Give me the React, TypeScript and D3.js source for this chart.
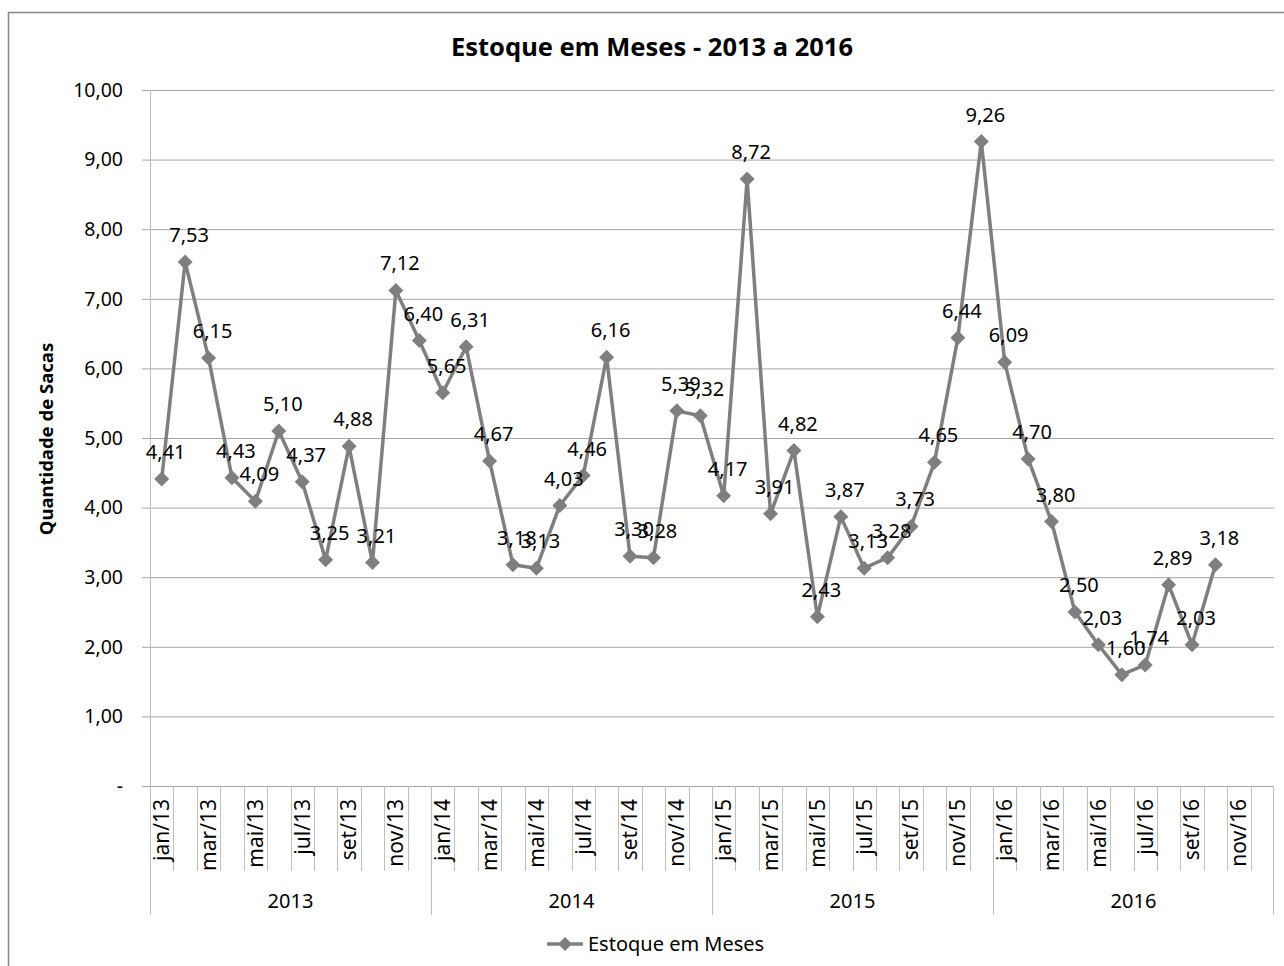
import React from "react";
import * as d3 from "d3";

const years = ["2013", "2014", "2015", "2016"];
const monthNames = ["jan", "fev", "mar", "abr", "mai", "jun", "jul", "ago", "set", "out", "nov", "dez"];
const values2013 = [4.41, 7.53, 6.15, 4.43, 4.09, 5.1, 4.37, 3.25, 4.88, 3.21, 7.12, 6.4];
const values2014 = [5.65, 6.31, 4.67, 3.18, 3.13, 4.03, 4.46, 6.16, 3.3, 3.28, 5.39, 5.32];
const values2015 = [4.17, 8.72, 3.91, 4.82, 2.43, 3.87, 3.13, 3.28, 3.73, 4.65, 6.44, 9.26];
const values2016 = [6.09, 4.7, 3.8, 2.5, 2.03, 1.6, 1.74, 2.89, 2.03, 3.18, null, null];
const yTicks = [0, 1, 2, 3, 4, 5, 6, 7, 8, 9, 10];
const title = "Estoque em Meses - 2013 a 2016";
const yTitle = "Quantidade de Sacas";
const seriesName = "Estoque em Meses";

const FONT = "'Noto Sans', 'Open Sans', sans-serif";

type Pt = { key: string; month: number; year: string; value: number | null };

export default function App() {
  const allValues = [values2013, values2014, values2015, values2016];
  const points: Pt[] = [];
  years.forEach((yr, yi) => {
    monthNames.forEach((m, mi) => {
      points.push({ key: `${m}/${yr.slice(2)}`, month: mi, year: yr, value: allValues[yi][mi] });
    });
  });

  const left = 150, right = 1274, top = 90, bottom = 786;
  const x = d3.scaleBand<string>().domain(points.map((p) => p.key)).range([left, right]).paddingInner(0).paddingOuter(0);
  const y = d3.scaleLinear().domain([0, 10]).range([bottom, top]);
  const bw = x.bandwidth();
  const cx = (k: string) => (x(k) as number) + bw / 2;

  const fmt = d3.format(".2f");
  const fmtNum = (v: number) => (v === 0 ? "-" : fmt(v).replace(".", ","));

  const valid = points.filter((p) => p.value !== null) as (Pt & { value: number })[];
  const line = d3
    .line<Pt & { value: number }>()
    .x((p) => cx(p.key))
    .y((p) => y(p.value));

  const diamond = (s: number) => `M0,${-s}L${s},0L0,${s}L${-s},0Z`;

  const lineColor = "#7f7f7f";
  const gridColor = "#a6a6a6";
  const axisColor = "#bfbfbf";

  const monthTickBottom = 871;
  const yearTickBottom = 915;

  return (
    <svg
      width={1284}
      height={966}
      style={{ position: "absolute", left: 0, top: 0, background: "#fff" }}
      fontFamily={FONT}
    >
      <rect x={8.5} y={12.5} width={1290} height={970} fill="#fff" stroke="#888" strokeWidth={1.5} />
      <text x={652} y={56} textAnchor="middle" fontSize={25.5} fontWeight="bold" fill="#000">
        {title}
      </text>

      {/* gridlines */}
      {yTicks.map((t) =>
        t === 0 ? null : (
          <line key={"g" + t} x1={left} x2={right} y1={y(t) + 0.5} y2={y(t) + 0.5} stroke={gridColor} strokeWidth={1} />
        )
      )}
      {/* y tick marks and labels */}
      {yTicks.map((t) => (
        <g key={"t" + t}>
          <line x1={142} x2={left} y1={y(t) + 0.5} y2={y(t) + 0.5} stroke={gridColor} strokeWidth={1} />
          <text x={123} y={y(t)} dy="0.35em" textAnchor="end" fontSize={19.5} fill="#000">
            {fmtNum(t)}
          </text>
        </g>
      ))}
      {/* y axis line */}
      <line x1={left + 0.5} x2={left + 0.5} y1={top} y2={bottom} stroke={axisColor} strokeWidth={1} />
      {/* x axis line */}
      <line x1={142} x2={right} y1={bottom + 0.5} y2={bottom + 0.5} stroke={gridColor} strokeWidth={1} />

      {/* month boundaries */}
      {points.map((p) => {
        const bx = Math.round(x(p.key) as number) + 0.5;
        const isYear = p.month === 0;
        return (
          <line
            key={"mb" + p.key}
            x1={bx}
            x2={bx}
            y1={bottom}
            y2={isYear ? yearTickBottom : monthTickBottom}
            stroke={axisColor}
            strokeWidth={1}
          />
        );
      })}
      <line x1={right - 0.5} x2={right - 0.5} y1={bottom} y2={yearTickBottom} stroke={axisColor} strokeWidth={1} />

      {/* month labels */}
      {points
        .filter((p) => p.month % 2 === 0)
        .map((p) => (
          <text
            key={"ml" + p.key}
            transform={`translate(${cx(p.key)},${799}) rotate(-90)`}
            dy="0.35em"
            textAnchor="end"
            fontSize={21}
            fill="#000"
          >
            {p.key}
          </text>
        ))}
      {/* year labels */}
      {years.map((yr) => {
        const k0 = `jan/${yr.slice(2)}`;
        const k1 = `dez/${yr.slice(2)}`;
        const mid = ((x(k0) as number) + (x(k1) as number) + bw) / 2;
        return (
          <text key={"yl" + yr} x={mid} y={901} dy="0.35em" textAnchor="middle" fontSize={20} fill="#000">
            {yr}
          </text>
        );
      })}

      {/* y title */}
      <text
        transform={`translate(47,${439}) rotate(-90)`}
        dy="0.35em"
        textAnchor="middle"
        fontSize={18.5}
        fontWeight="bold"
        fill="#000"
      >
        {yTitle}
      </text>

      {/* series */}
      <path d={line(valid) || ""} fill="none" stroke={lineColor} strokeWidth={3.5} strokeLinejoin="round" />
      {valid.map((p) => (
        <path key={"d" + p.key} d={diamond(7.5)} transform={`translate(${cx(p.key)},${y(p.value)})`} fill={lineColor} />
      ))}
      {valid.map((p) => (
        <text
          key={"lb" + p.key}
          x={cx(p.key) + 4}
          y={y(p.value) - 27}
          dy="0.35em"
          textAnchor="middle"
          fontSize={20}
          fill="#000"
        >
          {fmtNum(p.value)}
        </text>
      ))}

      {/* legend */}
      <line x1={547} x2={583} y1={944} y2={944} stroke={lineColor} strokeWidth={3.5} />
      <path d={diamond(7)} transform="translate(565,944)" fill={lineColor} />
      <text x={588} y={944} dy="0.35em" fontSize={20} fill="#000">
        {seriesName}
      </text>
    </svg>
  );
}
